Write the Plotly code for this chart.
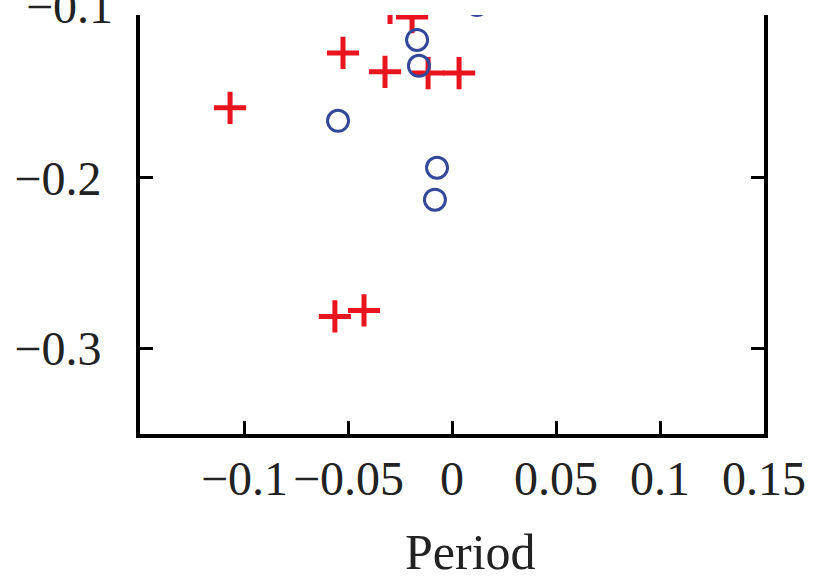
import plotly.graph_objects as go

# Data
red_x = [-0.1067, -0.0524, -0.0322, -0.0115, 0.0034, -0.0192, -0.0298, -0.0563, -0.0423]
red_y = [-0.1589, -0.1267, -0.1378, -0.1385, -0.1385, -0.1057, -0.1004, -0.2811, -0.2776]
blue_x = [-0.0168, -0.0159, -0.0548, -0.0072, -0.0082, 0.0120]
blue_y = [-0.1191, -0.1343, -0.1665, -0.1940, -0.2127, -0.0987]

x_ticks = [-0.1, -0.05, 0, 0.05, 0.1, 0.15]
x_labels = ["\u22120.1", "\u22120.05", "0", "0.05", "0.1", "0.15"]
y_ticks = [-0.3, -0.2]
y_labels = ["\u22120.3", "\u22120.2"]
x_title = "Period"
top_label = "\u22120.1"

FONT = "Liberation Serif"
TICKSIZE = 48
TEXTCOLOR = "#222222"

fig = go.Figure()
fig.add_trace(go.Scatter(
    x=red_x, y=red_y, mode="markers",
    marker=dict(symbol="cross-thin", size=23, color="#e8141e",
                line=dict(color="#e8141e", width=5)),
    showlegend=False,
))
fig.add_trace(go.Scatter(
    x=blue_x, y=blue_y, mode="markers",
    marker=dict(symbol="circle-open", size=21, color="#34489a",
                line=dict(color="#34489a", width=3)),
    showlegend=False,
))

PLOT_TOP, PLOT_BOTTOM, PLOT_LEFT, PLOT_RIGHT = 15, 434, 140, 764
PLOT_H = PLOT_BOTTOM - PLOT_TOP
PLOT_W = PLOT_RIGHT - PLOT_LEFT

fig.update_layout(
    width=821, height=581,
    margin=dict(l=PLOT_LEFT, r=821 - PLOT_RIGHT, t=PLOT_TOP, b=581 - PLOT_BOTTOM),
    paper_bgcolor="white", plot_bgcolor="white",
    font=dict(family=FONT, size=TICKSIZE, color=TEXTCOLOR),
    xaxis=dict(
        range=[-0.15, 0.15], tickvals=x_ticks, showticklabels=False,
        ticks="inside", ticklen=13, tickwidth=3, tickcolor="black",
        showline=True, linewidth=4, linecolor="black",
        showgrid=False, zeroline=False, mirror=False, automargin=False,
    ),
    yaxis=dict(
        range=[-0.35, -0.1045], tickvals=y_ticks, ticktext=y_labels,
        ticks="inside", ticklen=13, tickwidth=3, tickcolor="black",
        showline=True, linewidth=4, linecolor="black",
        showgrid=False, zeroline=False, mirror="ticks",
        ticklabelstandoff=25, automargin=False,
    ),
)

# x tick labels placed on the x axis scale
for v, lab in zip(x_ticks, x_labels):
    fig.add_annotation(
        text=lab, xref="x", yref="paper", x=v,
        y=(PLOT_BOTTOM - 478.5) / PLOT_H,
        xanchor="center", yanchor="middle", showarrow=False,
        font=dict(family=FONT, size=TICKSIZE, color=TEXTCOLOR),
    )

# x axis title
fig.add_annotation(
    text=x_title, xref="paper", yref="paper",
    x=(470 - PLOT_LEFT) / PLOT_W, y=(PLOT_BOTTOM - 552) / PLOT_H,
    xanchor="center", yanchor="middle", showarrow=False,
    font=dict(family=FONT, size=50, color=TEXTCOLOR),
)

# partly visible top tick label
fig.add_annotation(
    text=top_label, xref="paper", yref="paper",
    x=-0.04, y=(PLOT_BOTTOM - 6) / PLOT_H, xanchor="right", yanchor="middle",
    showarrow=False, font=dict(family=FONT, size=TICKSIZE, color=TEXTCOLOR),
)

fig.write_html("out.html")
